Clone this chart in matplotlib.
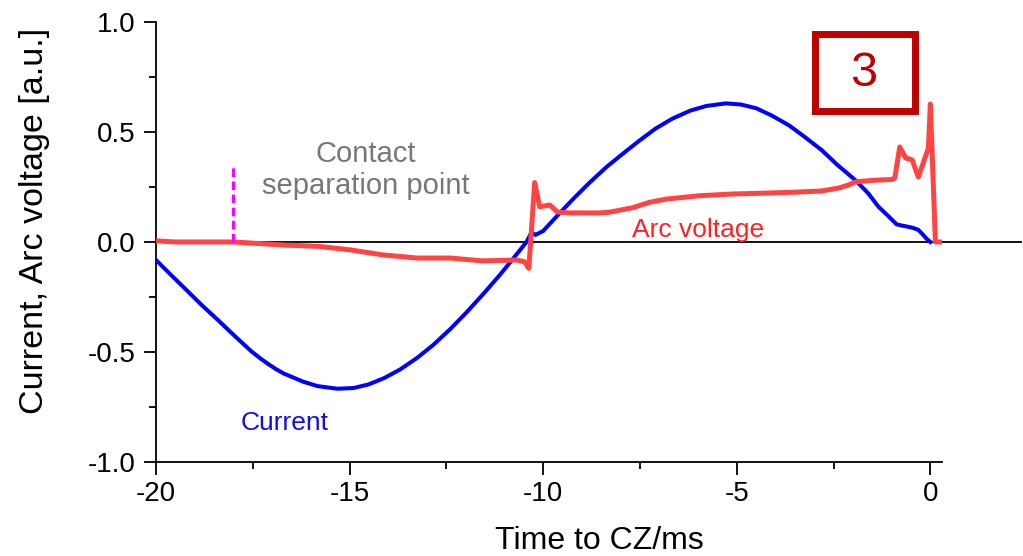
import matplotlib
matplotlib.use("Agg")
import matplotlib.pyplot as plt
from matplotlib.patches import Rectangle
from matplotlib.ticker import MultipleLocator

plt.rcParams["font.family"] = ["Liberation Sans", "DejaVu Sans"]
plt.rcParams["axes.unicode_minus"] = False

# current (a.u.) vs time to current zero (ms)
t_current = [-20.0, -19.6, -19.28, -18.8, -18.4, -17.95, -17.55, -17.3, -17.1, -16.9,
             -16.7, -16.2, -15.83, -15.32, -14.9, -14.5, -14.1, -13.69, -13.25, -12.84,
             -12.4, -11.98, -11.55, -11.12, -10.75, -10.43, -10.3, -10.2, -10.0, -9.58,
             -9.2, -8.8, -8.37, -7.95, -7.52, -7.1, -6.67, -6.2, -5.79, -5.28,
             -4.9, -4.5, -4.1, -3.65, -3.25, -2.81, -2.4, -1.93, -1.6, -1.34,
             -1.1, -0.87, -0.75, -0.6, -0.45, -0.31, -0.2, -0.1, 0.0]
current = [-0.082, -0.152, -0.207, -0.29, -0.355, -0.43, -0.495, -0.53, -0.555, -0.578,
           -0.598, -0.635, -0.655, -0.667, -0.664, -0.647, -0.618, -0.579, -0.526, -0.468,
           -0.396, -0.32, -0.237, -0.15, -0.07, 0.0, 0.045, 0.032, 0.05, 0.13,
           0.2, 0.27, 0.34, 0.40, 0.46, 0.515, 0.56, 0.597, 0.618, 0.63,
           0.625, 0.608, 0.575, 0.53, 0.478, 0.418, 0.35, 0.28, 0.22, 0.16,
           0.12, 0.08, 0.075, 0.07, 0.064, 0.055, 0.035, 0.015, 0.0]

# arc voltage (a.u.)
t_arc = [-20.0, -19.5, -18.0, -16.7, -15.8, -14.98, -14.13, -13.26, -12.4, -11.56,
         -10.69, -10.48, -10.37, -10.22, -10.09, -9.83, -9.63, -9.3, -8.55, -8.3,
         -7.7, -7.26, -6.82, -5.97, -5.12, -4.25, -3.4, -2.8, -2.37, -2.1,
         -1.93, -1.5, -1.0, -0.92, -0.79, -0.64, -0.47, -0.31, -0.05, 0.0,
         0.13, 0.26]
arc = [0.005, 0.0, 0.0, -0.014, -0.02, -0.036, -0.059, -0.073, -0.073, -0.086,
       -0.082, -0.09, -0.12, 0.27, 0.16, 0.168, 0.136, 0.132, 0.132, 0.135,
       0.155, 0.18, 0.195, 0.21, 0.218, 0.222, 0.227, 0.232, 0.245, 0.26,
       0.273, 0.28, 0.284, 0.29, 0.432, 0.382, 0.373, 0.295, 0.427, 0.627,
       0.0, 0.0]

t_separation = -18.0
sep_top = 0.34

fig = plt.figure(figsize=(10.23, 5.56), dpi=100)
ax = fig.add_axes([0.1525, 0.1691, 0.7683, 0.7914])

ax.axhline(0, xmin=0, xmax=1.10, color="black", lw=1.3, clip_on=False, zorder=1)
ax.plot(t_current, current, color="#0000ff", lw=2.9, zorder=3, solid_joinstyle="round")
ax.plot(t_arc, arc, color="#ff4444", lw=3.6, zorder=4, solid_joinstyle="round")
ax.plot([t_separation, t_separation], [0, sep_top], color="#ff00ff", lw=2.3,
        dashes=(2.7, 1.4), zorder=5)

ax.text(-14.57, 0.327, "Contact\nseparation point", color="#777777", fontsize=21,
        ha="center", va="center", linespacing=1.15)
ax.text(-6.0, 0.023, "Arc voltage", color="#ff2222", fontsize=19, ha="center",
        va="baseline")
ax.text(-16.67, -0.855, "Current", color="#1010e8", fontsize=19, ha="center",
        va="baseline")

ax.set_xlim(-20, 0.3)
ax.set_ylim(-1.0, 1.0)
ax.xaxis.set_major_locator(MultipleLocator(5))
ax.xaxis.set_minor_locator(MultipleLocator(2.5))
ax.yaxis.set_minor_locator(MultipleLocator(0.25))
ax.set_yticks([1.0, 0.5, 0.0, -0.5, -1.0])
ax.set_yticklabels(["1.0", "0.5", "0.0", "-0.5", "-1.0"])

for side in ["top", "right"]:
    ax.spines[side].set_visible(False)
for side in ["left", "bottom"]:
    ax.spines[side].set_linewidth(1.3)

ax.tick_params(which="major", direction="out", length=9, width=1.3, labelsize=20)
ax.tick_params(which="minor", direction="out", length=5, width=1.3)
ax.tick_params(axis="x", which="major", pad=5)
ax.tick_params(axis="y", which="major", pad=6)

fig.text(35 / 1023, 0.6025, "Current, Arc voltage [a.u.]", rotation=90,
         fontsize=24.5, ha="center", va="center")
fig.text(599 / 1023, 1 - 541 / 556, "Time to CZ/ms", fontsize=23,
         ha="center", va="center")

# boxed panel number
fig.patches.append(Rectangle((0.7962, 0.7995), 0.0978, 0.1385, transform=fig.transFigure,
                             fill=False, edgecolor="#c00000", lw=5))
fig.text(0.8446, 0.867, "3", color="#c00000", fontsize=35, ha="center", va="center")

plt.savefig("out.png", dpi=100)
plt.close()
